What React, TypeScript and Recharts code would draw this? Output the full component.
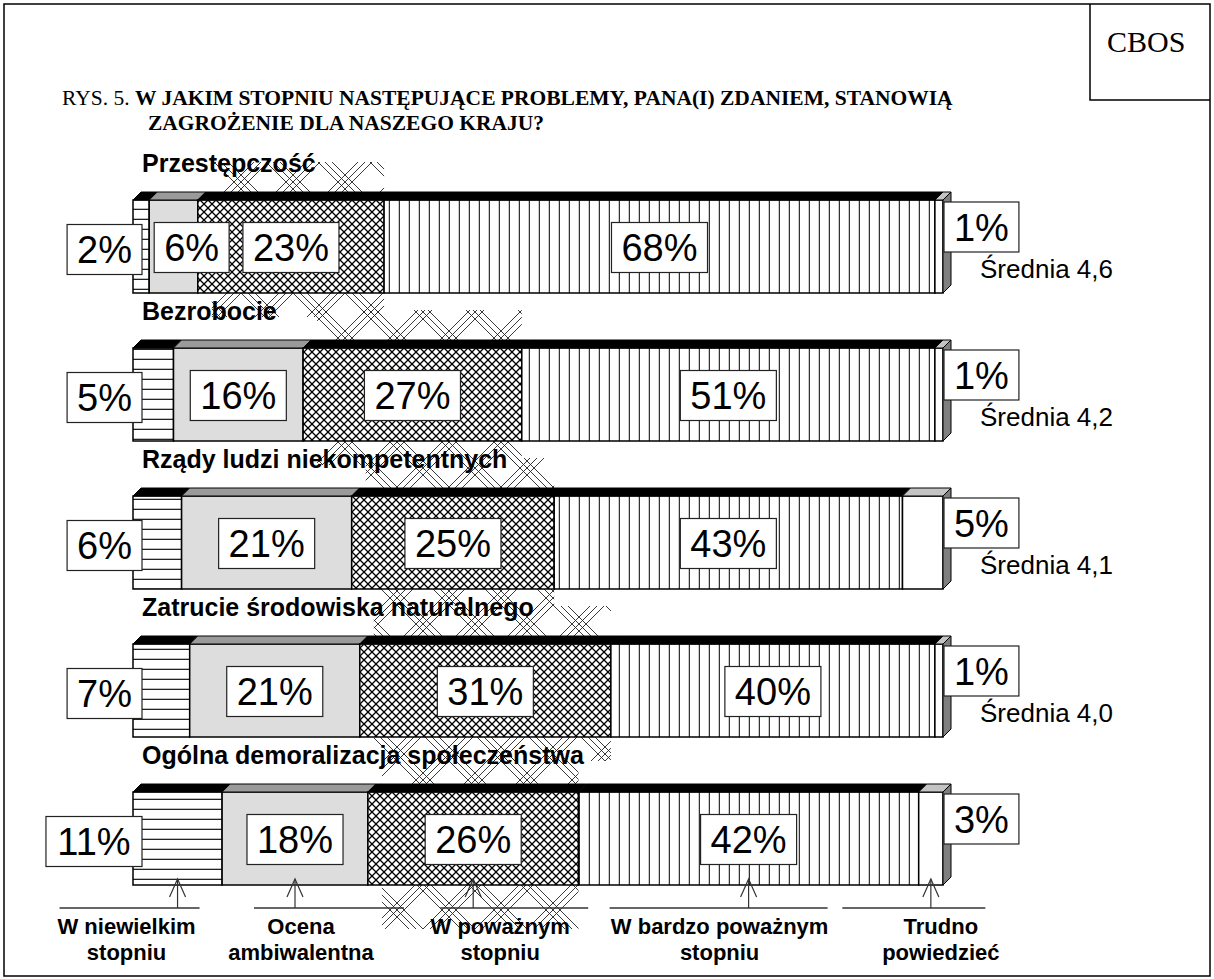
import React from 'react'
import { Bar, BarChart, XAxis, YAxis } from 'recharts'

const categories = [
  'Przestępczość',
  'Bezrobocie',
  'Rządy ludzi niekompetentnych',
  'Zatrucie środowiska naturalnego',
  'Ogólna demoralizacja społeczeństwa',
]
const smallDegree = [2, 5, 6, 7, 11]
const ambivalent = [6, 16, 21, 21, 18]
const serious = [23, 27, 25, 31, 26]
const verySerious = [68, 51, 43, 40, 42]
const hardToSay = [1, 1, 5, 1, 3]
const means = ['4,6', '4,2', '4,1', '4,0', '']
const answerLabels = [
  ['W niewielkim', 'stopniu'],
  ['Ocena', 'ambiwalentna'],
  ['W poważnym', 'stopniu'],
  ['W bardzo poważnym', 'stopniu'],
  ['Trudno', 'powiedzieć'],
]

const rows = categories.map((name, i) => ({
  name,
  small: smallDegree[i],
  ambiv: ambivalent[i],
  serious: serious[i],
  very: verySerious[i],
  hard: hardToSay[i],
  mean: means[i],
}))

// look of each answer segment + where its bottom caption sits relative to the arrow
const SERIES = [
  { key: 'small', fill: 'url(#pHoriz)', top: '#000', textDx: -51, lineDx: -48, lineW: 140 },
  { key: 'ambiv', fill: '#dddddd', top: '#9a9a9a', textDx: 6, lineDx: 34, lineW: 150 },
  { key: 'serious', fill: 'url(#pCross)', top: '#000', textDx: 27, lineDx: 41, lineW: 148 },
  { key: 'very', fill: 'url(#pVert)', top: '#000', textDx: -29, lineDx: -30, lineW: 218 },
  { key: 'hard', fill: '#ffffff', top: '#c4c4c4', textDx: 10, lineDx: -17, lineW: 143 },
]

const SANS = '"Liberation Sans", Arial, sans-serif'
const SERIF = '"Liberation Serif", "Times New Roman", serif'
const D = 8

function textW(s: string, size: number) {
  let w = 0
  for (const ch of s) w += ch === '%' ? 0.889 : 0.556
  return w * size
}

// big zig-zag hatch that bleeds around the cross-hatched segment
function bigHatchPath(t: number) {
  let d = ''
  for (const o of [0, 7, 14]) {
    d += `M${o},0L${t},${t - o}M0,${t - o}L${o},${t}`
    d += `M${o},0L0,${o}M${t},${o}L${o},${t}`
  }
  return d
}

function PctBox({ left, cy, text }: { left: number; cy: number; text: string }) {
  const w = textW(text, 38) + 20
  const h = 50
  return (
    <g>
      <rect x={left} y={cy - h / 2} width={w} height={h} fill="#fff" stroke="#222" strokeWidth={1.2} />
      <text x={left + w / 2} y={cy + 13.5} textAnchor="middle" fontFamily={SANS} fontSize={38} fill="#000">
        {text}
      </text>
    </g>
  )
}

function Overlay({ x, y, width, height, payload, index }: any) {
  const vals = SERIES.map((s) => payload[s.key] as number)
  const ppu = width / vals[4]
  const right = x + width
  const total = vals.reduce((a, b) => a + b, 0)
  const left = right - total * ppu
  const starts: number[] = []
  let acc = left
  vals.forEach((v) => {
    starts.push(acc)
    acc += v * ppu
  })
  const cy = y + height / 2
  const bottom = y + height

  return (
    <g>
      <text x={left + 9} y={y - 28} fontFamily={SANS} fontWeight="bold" fontSize={25} fill="#000">
        {payload.name}
      </text>
      {vals.map((v, k) => {
        const t = `${v}%`
        const w = textW(t, 38) + 20
        if (k === 0) return <PctBox key={k} left={left + 9 - w} cy={cy + 3} text={t} />
        if (k === 4) return <PctBox key={k} left={right + 1} cy={y + 27} text={t} />
        const segW = v * ppu
        const bx = segW < w + 10 ? starts[k] + 5 : starts[k] + segW / 2 - w / 2
        return <PctBox key={k} left={bx} cy={cy + 1} text={t} />
      })}
      {payload.mean ? (
        <text x={right + 37} y={y + 78} fontFamily={SANS} fontSize={26} fill="#000">
          Średnia {payload.mean}
        </text>
      ) : null}
      {index === categories.length - 1
        ? SERIES.map((s, k) => {
            const ax = starts[k] + (vals[k] * ppu) / 2
            const tip = bottom - 6
            const base = bottom + 23
            const lc = ax + s.lineDx
            const tc = ax + s.textDx
            return (
              <g key={k}>
                <line x1={ax} y1={tip} x2={ax} y2={base} stroke="#333" strokeWidth={1.2} />
                <polyline points={`${ax - 8},${tip + 18} ${ax},${tip} ${ax + 8},${tip + 18}`} fill="none" stroke="#333" strokeWidth={1.2} />
                <line x1={lc - s.lineW / 2} y1={base} x2={lc + s.lineW / 2} y2={base} stroke="#333" strokeWidth={1.6} />
                <text x={tc} y={bottom + 49} textAnchor="middle" fontFamily={SANS} fontWeight="bold" fontSize={22} fill="#000">
                  {answerLabels[k][0]}
                </text>
                <text x={tc} y={bottom + 75} textAnchor="middle" fontFamily={SANS} fontWeight="bold" fontSize={22} fill="#000">
                  {answerLabels[k][1]}
                </text>
              </g>
            )
          })
        : null}
    </g>
  )
}

function Segment(props: any) {
  const { x, y, width, height, si, index } = props
  const s = SERIES[si]
  const last = si === SERIES.length - 1
  const isLastRow = index === categories.length - 1
  return (
    <g>
      {si === 2 ? (
        <g>
          <rect x={x + 14} y={y - D - 30} width={Math.max(width - 14, 0)} height={30} fill="url(#pBig)" />
          <rect x={x + 14} y={y + height} width={Math.max(width - 14, 0)} height={isLastRow ? 44 : 24} fill="url(#pBig)" />
        </g>
      ) : null}
      <rect x={x} y={y} width={width} height={height} fill={s.fill} stroke="#000" strokeWidth={1.5} />
      <polygon
        points={`${x},${y} ${x + width},${y} ${x + width + D},${y - D} ${x + D},${y - D}`}
        fill={s.top}
        stroke="#000"
        strokeWidth={1}
      />
      {last ? (
        <>
          <polygon
            points={`${x + width},${y} ${x + width + D},${y - D} ${x + width + D},${y + height - D} ${x + width},${y + height}`}
            fill="#7f7f7f"
            stroke="#000"
            strokeWidth={1}
          />
          <Overlay {...props} />
        </>
      ) : null}
    </g>
  )
}

export default function App() {
  return (
    <div style={{ position: 'relative', width: 1214, height: 979, background: '#fff' }}>
      <style>{'body{margin:0}'}</style>
      <svg width={0} height={0} style={{ position: 'absolute' }}>
        <defs>
          <pattern id="pHoriz" patternUnits="userSpaceOnUse" width={10} height={10}>
            <rect width={10} height={10} fill="#fff" />
            <line x1={0} y1={9.5} x2={10} y2={9.5} stroke="#222" strokeWidth={1.6} />
          </pattern>
          <pattern id="pVert" patternUnits="userSpaceOnUse" width={10} height={10}>
            <rect width={10} height={10} fill="#fff" />
            <line x1={9.5} y1={0} x2={9.5} y2={10} stroke="#333" strokeWidth={1.5} />
          </pattern>
          <pattern id="pCross" patternUnits="userSpaceOnUse" width={8} height={8}>
            <rect width={8} height={8} fill="#fff" />
            <path d="M0,0 L8,8 M8,0 L0,8" stroke="#000" strokeWidth={1.3} />
          </pattern>
          <pattern id="pBig" patternUnits="userSpaceOnUse" width={52} height={52}>
            <path d={bigHatchPath(52)} stroke="#222" strokeWidth={0.9} fill="none" />
          </pattern>
        </defs>
      </svg>
      <svg width={1214} height={979} style={{ position: 'absolute', left: 0, top: 0 }}>
        <rect x={4} y={4} width={1206} height={972} fill="none" stroke="#000" strokeWidth={1.5} />
        <path d="M1090,4 V100 H1210" fill="none" stroke="#000" strokeWidth={1.5} />
        <text x={1107} y={52} fontFamily={SERIF} fontSize={30} fill="#000">
          CBOS
        </text>
        <text x={62} y={105} fontFamily={SERIF} fontSize={21.5} fill="#000">
          <tspan>RYS. 5. </tspan>
          <tspan fontWeight="bold">W JAKIM STOPNIU NASTĘPUJĄCE PROBLEMY, PANA(I) ZDANIEM, STANOWIĄ</tspan>
        </text>
        <text x={148} y={130} fontFamily={SERIF} fontSize={21.5} fontWeight="bold" fill="#000">
          ZAGROŻENIE DLA NASZEGO KRAJU?
        </text>
      </svg>
      <div style={{ position: 'absolute', left: 0, top: 0 }}>
        <BarChart
          width={1214}
          height={979}
          data={rows}
          layout="vertical"
          barSize={93}
          margin={{ top: 172, bottom: 67, left: 133, right: 271 }}
        >
          <XAxis type="number" domain={[0, 100]} hide />
          <YAxis type="category" dataKey="name" hide />
          {SERIES.map((s, i) => (
            <Bar
              key={s.key}
              dataKey={s.key}
              stackId="a"
              isAnimationActive={false}
              shape={(p: any) => <Segment {...p} si={i} />}
            />
          ))}
        </BarChart>
      </div>
    </div>
  )
}
